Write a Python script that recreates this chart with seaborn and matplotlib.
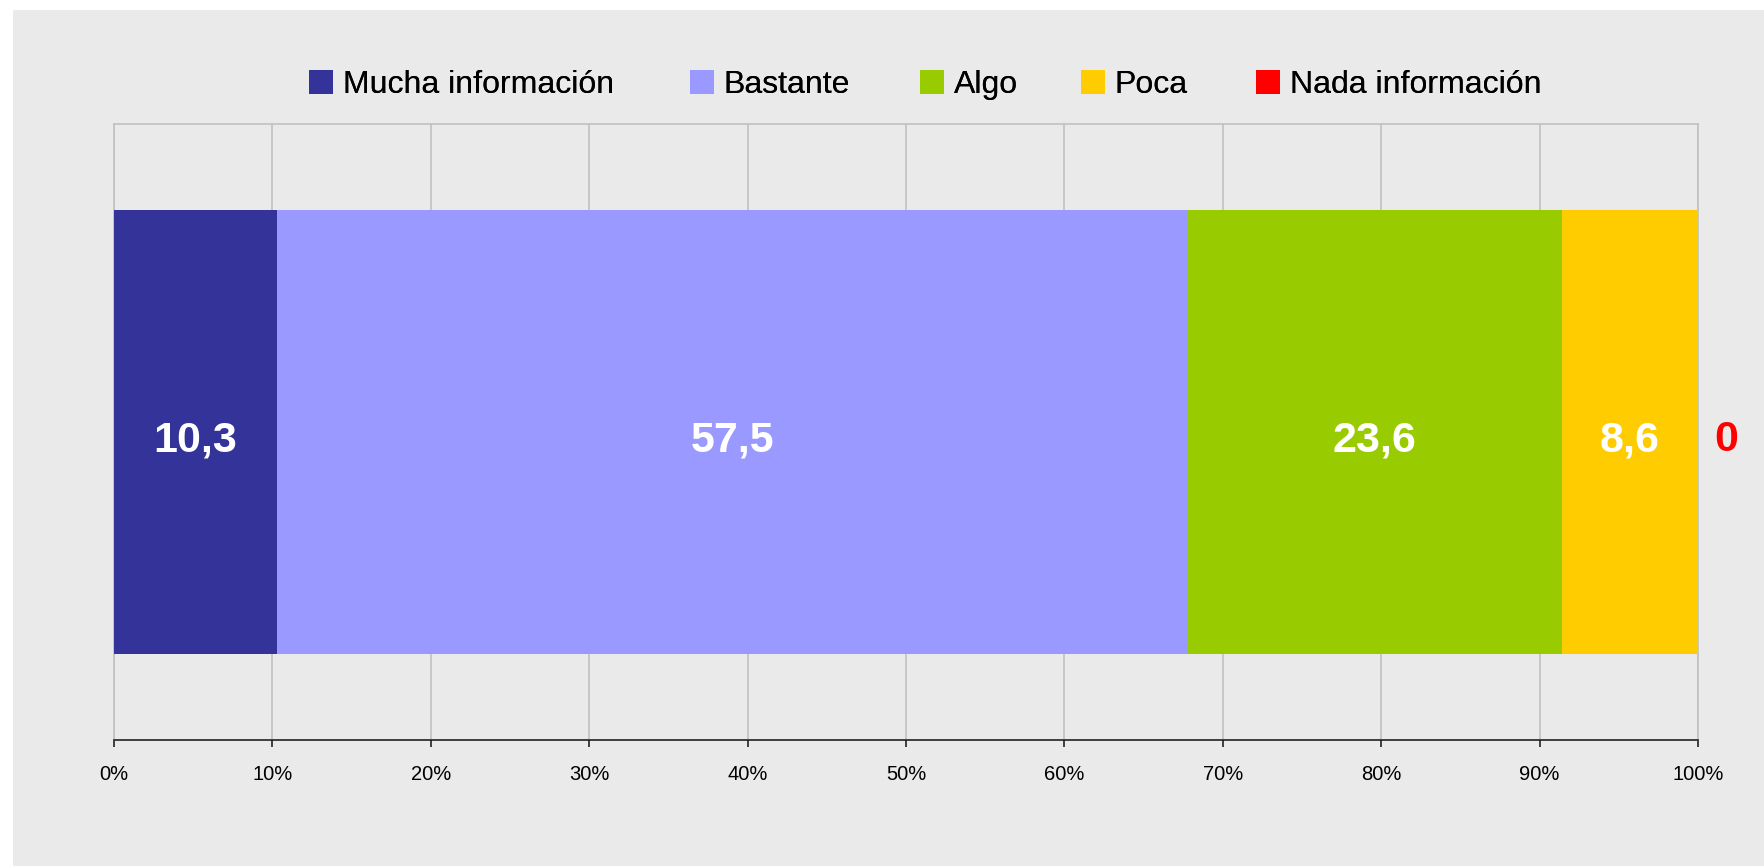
import numpy as np
import pandas as pd
import seaborn as sns
import matplotlib.pyplot as plt
from matplotlib.patches import Rectangle, Patch
from matplotlib.ticker import FuncFormatter

# Data
categories = ["Mucha información", "Bastante", "Algo", "Poca", "Nada información"]
values = [10.3, 57.5, 23.6, 8.6, 0.0]
colors = ["#333399", "#9999FF", "#99CC00", "#FFCC00", "#FF0000"]
label_colors = ["white", "white", "white", "white", "#FF0000"]

df = pd.DataFrame({"category": categories, "value": values, "color": colors})
df["cum"] = np.round(np.cumsum(df["value"]), 1)
df["start"] = df["cum"] - df["value"]

sns.set_style("white")
plt.rcParams["font.family"] = ["Liberation Sans", "DejaVu Sans"]
plt.rcParams["text.color"] = "black"

W, H = 1765, 866
fig = plt.figure(figsize=(W / 100, H / 100), dpi=100, facecolor="white")
fig.patches.append(Rectangle((13 / W, 0), 1 - 13 / W, 1 - 10 / H,
                             transform=fig.transFigure, facecolor="#EAEAEA",
                             edgecolor="none", zorder=-10))

ax = fig.add_axes([114 / W, 126 / H, (1698 - 114) / W, (742 - 126) / H])
ax.set_facecolor("#EAEAEA")

# stacked bar: draw cumulative totals from the longest down
for i in reversed(range(len(df))):
    row = df.iloc[i]
    sns.barplot(x=[row["cum"]], y=[""], orient="h", color=row["color"],
                saturation=1, width=0.72, ax=ax, zorder=3,
                edgecolor="none", linewidth=0)

ax.set_ylim(0.5, -0.5)
ax.set_xlim(0, 100)
ax.set_xticks(np.arange(0, 101, 10))
ax.xaxis.set_major_formatter(FuncFormatter(lambda v, p: f"{v:.0f}%"))
ax.set_yticks([])
ax.set_xlabel("")
ax.set_ylabel("")
ax.grid(axis="x", color="#C0C0C0", linewidth=1.2, zorder=0)
ax.set_axisbelow(True)
for s in ["top", "right", "left"]:
    ax.spines[s].set_color("#C0C0C0")
    ax.spines[s].set_linewidth(1.2)
ax.spines["bottom"].set_color("#222222")
ax.spines["bottom"].set_linewidth(1.2)
ax.tick_params(axis="x", bottom=True, direction="out", length=5, width=1.2,
               color="#222222", labelsize=14.5, pad=13, labelcolor="black")

# value labels (the zero one sits just past the bar end)
for i, row in df.iterrows():
    txt = f"{row['value']:.1f}".replace(".", ",")
    if row["value"] == 0:
        txt, x, dx = "0", row["cum"], 20
    else:
        x, dx = row["start"] + row["value"] / 2, 0
    ax.annotate(txt, xy=(x, 0), xytext=(dx, -6), textcoords="offset points",
                ha="center", va="center", fontsize=31, fontweight="bold",
                color=label_colors[i], zorder=5)

# legend entries, placed like the original
legend_x = [309, 690, 920, 1081, 1256]
for x, cat, c in zip(legend_x, categories, colors):
    leg = fig.legend(handles=[Patch(facecolor=c, edgecolor="none", label=cat)],
                     loc="center left", bbox_to_anchor=(x / W, 1 - 85 / H),
                     frameon=False, fontsize=23, handlelength=0.75,
                     handleheight=0.75, handletextpad=0.3, borderpad=0,
                     borderaxespad=0, labelcolor="black")
    fig.add_artist(leg)

fig.savefig("out.png", dpi=100, facecolor="white")
